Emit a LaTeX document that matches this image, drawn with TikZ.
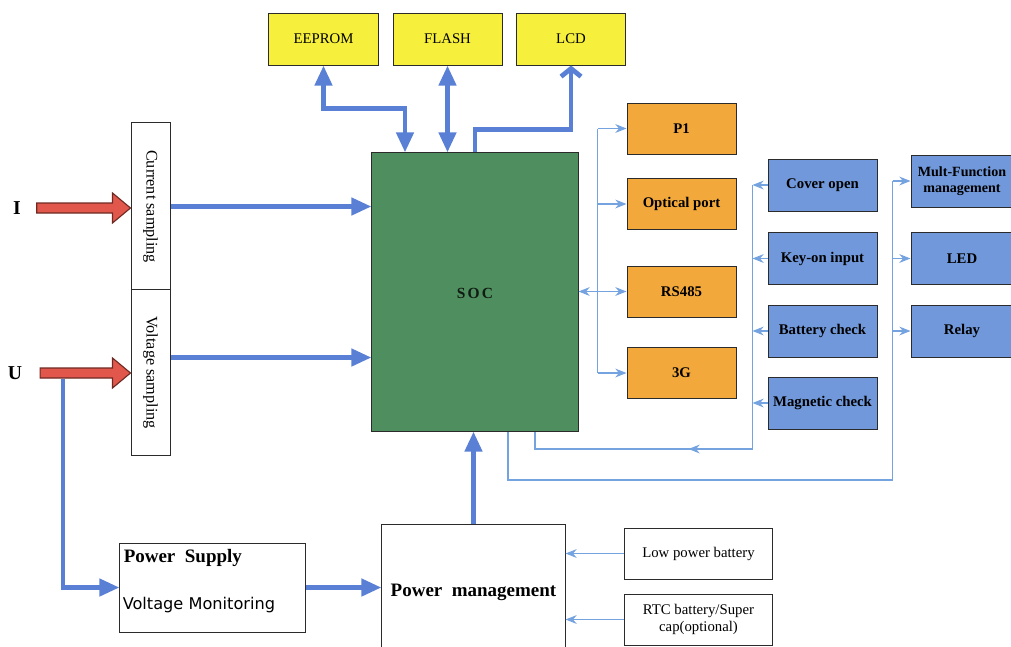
\documentclass[tikz,border=0pt]{standalone}
\usepackage{fontspec}
\setmainfont{Liberation Serif}
\newfontfamily\vmfont{DejaVu Sans}
\usepackage{tikz}
\usetikzlibrary{positioning,arrows.meta,calc}
\definecolor{mtYellow}{HTML}{F6F03C}
\definecolor{mtOrange}{HTML}{F2A83A}
\definecolor{mtGreen}{HTML}{4F8E5E}
\definecolor{mtBlue}{HTML}{7098DA}
\definecolor{mtBus}{HTML}{5A80D6}
\definecolor{mtSig}{HTML}{75A3E0}
\definecolor{mtRed}{HTML}{E2574C}
\definecolor{mtRedDark}{HTML}{6E2A22}
\definecolor{mtEdge}{HTML}{2B2B2B}

% fat red input arrow, tail #1 and tip #2 on the same height
\newcommand{\redarrow}[2]{%
  \filldraw[redarr] ($(#1)+(0,-5)$) -- ($(#2)+(-18,-5)$) -- ($(#2)+(-18,-15)$) -- (#2)
    -- ($(#2)+(-18,15)$) -- ($(#2)+(-18,5)$) -- ($(#1)+(0,5)$) -- cycle;}

\begin{document}
\begin{tikzpicture}[
  x=0.025cm, y=-0.025cm,
  font=\fontsize{10.5}{12.5}\selectfont,
  caja/.style={draw=mtEdge, line width=0.7pt, align=center, inner sep=2pt},
  mem/.style ={caja, fill=mtYellow, minimum width=2.725cm, minimum height=1.3cm},
  com/.style ={caja, fill=mtOrange, font=\fontsize{10.5}{12.5}\selectfont\bfseries, minimum width=2.725cm, minimum height=1.275cm},
  io/.style  ={caja, fill=mtBlue, font=\fontsize{10.5}{12.5}\selectfont\bfseries, minimum height=1.3cm},
  plain/.style={caja, fill=white},
  bus/.style={line width=3.4pt, draw=mtBus, -{Triangle[length=0.5cm, width=0.42cm]}},
  sig/.style={line width=0.8pt, draw=mtSig, -{Stealth[length=0.28cm, width=0.22cm]}},
  redarr/.style={fill=mtRed, draw=mtRedDark, line width=0.8pt},
]
\clip (0,0) rectangle (1011,646);

% ---- Memorias / display ----
\node[mem] (eeprom) at (323.5,39) {EEPROM};
\node[mem] (flash)  at (447.5,39) {FLASH};
\node[mem] (lcd)    at (571,39)   {LCD};

% ---- SOC ----
\node[caja, fill=mtGreen, minimum width=5.15cm, minimum height=6.95cm] (soc) at (475,292) {};
\node[font=\fontsize{11}{13}\selectfont\bfseries, text=black!80!mtGreen] (soclbl) at (475,293)
     {\addfontfeature{LetterSpace=14}SOC};

% ---- Muestreo ----
\node[plain, minimum width=0.975cm, minimum height=4.175cm, font=\fontsize{11.5}{13}\selectfont] (cur)  at (150.5,206.5)
     {\rotatebox{-90}{Current sampling}};
\node[plain, minimum width=0.975cm, minimum height=4.125cm, font=\fontsize{11.5}{13}\selectfont] (volt) at (150.5,372.5)
     {\rotatebox{-90}{Voltage sampling}};
\node[font=\fontsize{14}{16}\selectfont\bfseries] (Ilbl) at (17,208) {I};
\node[font=\fontsize{14}{16}\selectfont\bfseries] (Ulbl) at (15,373) {U};

% ---- Alimentación ----
\node[plain, minimum width=4.625cm, minimum height=2.225cm] (psu) at (212.5,587.5) {};
\node[anchor=base west, inner sep=0pt, font=\fontsize{13.5}{15}\selectfont\bfseries] (psuT) at ($(psu.north west)+(4,20)$)
     {Power\ \ Supply};
\node[anchor=base west, inner sep=0pt, font=\vmfont\fontsize{11.5}{13}\selectfont] (psuV) at ($(psu.north west)+(3,67)$)
     {Voltage Monitoring};
\node[plain, minimum width=4.575cm, minimum height=3.4cm] (pm) at (473.5,592) {};
\node[font=\fontsize{13.5}{15}\selectfont\bfseries] (pmlbl) at (473.5,592) {Power\ \ management};
\node[plain, minimum width=3.675cm, minimum height=1.275cm] (lowbat) at (698.5,553.5) {Low power battery};
\node[plain, minimum width=3.675cm, minimum height=1.275cm, font=\fontsize{10.5}{11.5}\selectfont] (rtc) at (698.5,619.5)
     {RTC battery/Super\\cap(optional)};

% ---- Comunicación ----
\node[com] (p1)      at (681.5,128.5) {P1};
\node[com] (optical) at (681.5,204)   {Optical port};
\node[com] (rs485)   at (681.5,291.5) {RS485};
\node[com] (g3)      at (681.5,373)   {3G};

% ---- Entradas ----
\node[io, minimum width=2.725cm] (cover)    at (822.5,185)   {Cover open};
\node[io, minimum width=2.725cm] (keyon)    at (822.5,258.5) {Key-on input};
\node[io, minimum width=2.725cm] (battery)  at (822.5,331)   {Battery check};
\node[io, minimum width=2.725cm] (magnetic) at (822.5,403)   {Magnetic check};

% ---- Salidas ----
\node[io, minimum width=2.55cm, font=\fontsize{10}{11}\selectfont\bfseries] (multi) at (962,181)
     {Mult-Function\\management};
\node[io, minimum width=2.55cm] (led)   at (962,258.5) {LED};
\node[io, minimum width=2.55cm] (relay) at (962,331)   {Relay};

% ---- Flechas rojas ----
\coordinate (iTail) at ($(Ilbl.east)+(11,0)$);
\coordinate (iTip)  at (cur.west |- iTail);
\coordinate (uTail) at ($(Ulbl.east)+(13,0)$);
\coordinate (uTip)  at (volt.west |- uTail);
\redarrow{iTail}{iTip}
\redarrow{uTail}{uTip}

% ---- Bus grueso ----
\coordinate (uTap) at (63,379);
\coordinate (vOut) at ($(volt.east)+(0,-15)$);
\draw[bus] (uTap) |- (psu.west);
\draw[bus] (cur.east) -- (cur.east -| soc.west);
\draw[bus] (vOut) -- (vOut -| soc.west);
\draw[bus] (psu.east) -- (psu.east -| pm.west);
\draw[bus] (pm.north) -- (pm.north |- soc.south);
\draw[bus, {Triangle[length=0.5cm, width=0.42cm]}-{Triangle[length=0.5cm, width=0.42cm]}]
     (eeprom.south) -- ++(0,43) -| ($(soc.north)+(-70,0)$);
\draw[bus, {Triangle[length=0.5cm, width=0.42cm]}-{Triangle[length=0.5cm, width=0.42cm]}]
     (flash.south) -- (flash.south |- soc.north);
\draw[bus, -{Straight Barb[length=0.2cm, width=0.5cm]}] (soc.north) -- ++(0,-23) -| (lcd.south);

% ---- Señales ----
\draw[sig, -] ($(p1.west)+(-29,0)$) -- ($(g3.west)+(-29,0)$);
\foreach \n in {p1,optical,g3}
  \draw[sig] ($(\n.west)+(-29,0)$) -- (\n.west);
\draw[sig, {Stealth[length=0.28cm, width=0.22cm]}-{Stealth[length=0.28cm, width=0.22cm]}] (rs485.west -| soc.east) -- (rs485.west);

\coordinate (retA) at ($(magnetic.west)+(-15,46)$);
\foreach \n in {cover,keyon,battery,magnetic}
  \draw[sig] (\n.west) -- ++(-15,0);
\draw[sig, -] ($(cover.west)+(-15,0)$) -- (retA) -| ($(soc.south)+(60,0)$);
\draw[sig] (retA) -- ++(-64,0);

\coordinate (retB) at ($(relay.west)+(-18,149)$);
\foreach \n in {multi,led,relay}
  \draw[sig] ($(\n.west)+(-18,0)$) -- (\n.west);
\draw[sig, -] ($(multi.west)+(-18,0)$) -- (retB) -| ($(soc.south)+(33,0)$);

\draw[sig] (lowbat.west) -- (lowbat.west -| pm.east);
\draw[sig] (rtc.west) -- (rtc.west -| pm.east);

\end{tikzpicture}
\end{document}
